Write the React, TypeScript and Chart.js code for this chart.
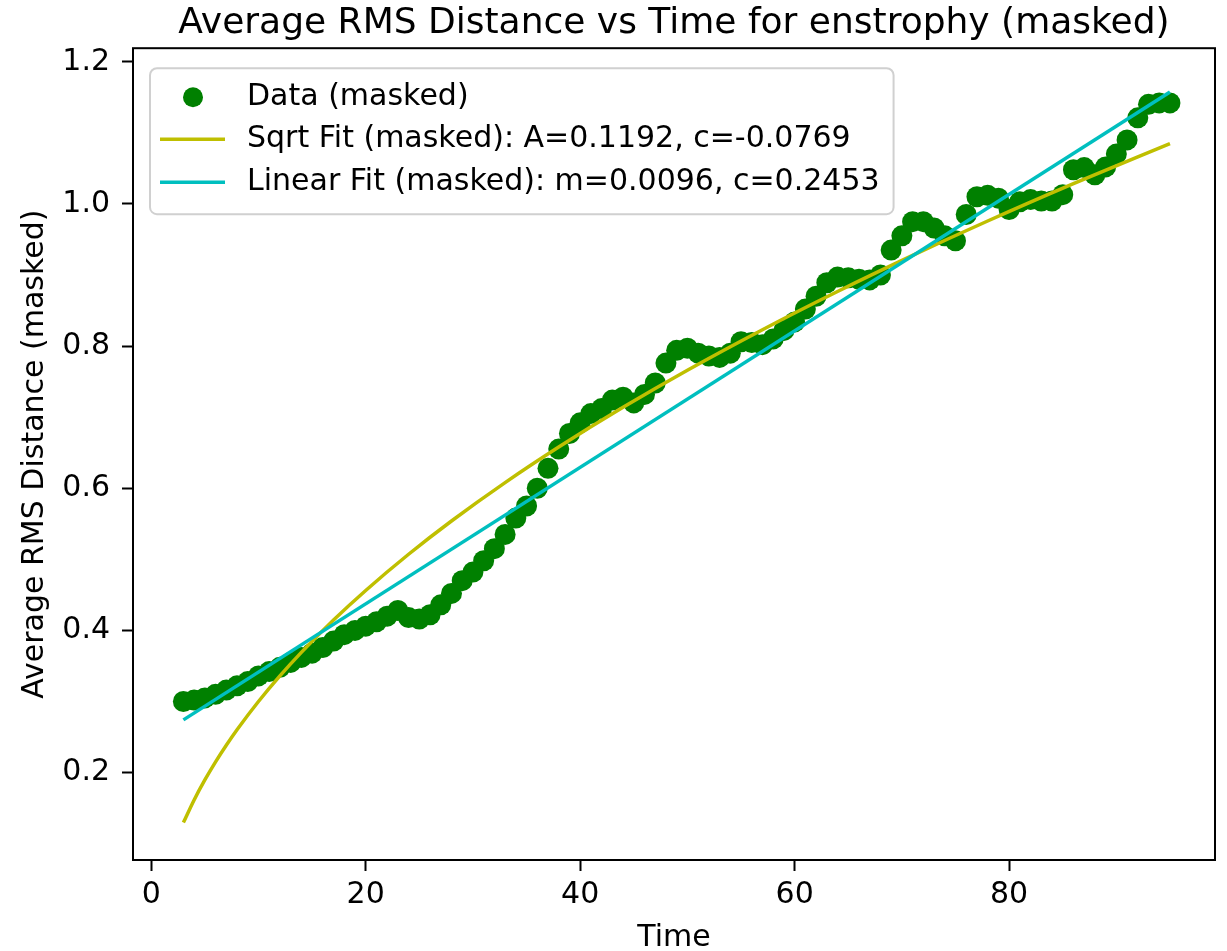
import React, { useEffect, useRef } from "react";
import { Chart, registerables } from "chart.js";

Chart.register(...registerables);

const TITLE = "Average RMS Distance vs Time for enstrophy (masked)";
const X_LABEL = "Time";
const Y_LABEL = "Average RMS Distance (masked)";
const DATA_LABEL = "Data (masked)";
const SQRT_LABEL = "Sqrt Fit (masked): A=0.1192, c=-0.0769";
const LINEAR_LABEL = "Linear Fit (masked): m=0.0096, c=0.2453";

const TIMES = [
  3, 4, 5, 6, 7, 8, 9, 10, 11, 12,
  13, 14, 15, 16, 17, 18, 19, 20, 21, 22,
  23, 24, 25, 26, 27, 28, 29, 30, 31, 32,
  33, 34, 35, 36, 37, 38, 39, 40, 41, 42,
  43, 44, 45, 46, 47, 48, 49, 50, 51, 52,
  53, 54, 55, 56, 57, 58, 59, 60, 61, 62,
  63, 64, 65, 66, 67, 68, 69, 70, 71, 72,
  73, 74, 75, 76, 77, 78, 79, 80, 81, 82,
  83, 84, 85, 86, 87, 88, 89, 90, 91, 92,
  93, 94, 95,
];

const RMS = [
  0.300, 0.302, 0.305, 0.310, 0.316, 0.322, 0.328, 0.336, 0.342, 0.348,
  0.355, 0.362, 0.368, 0.376, 0.385, 0.394, 0.400, 0.406, 0.412, 0.420,
  0.428, 0.418, 0.416, 0.422, 0.436, 0.452, 0.470, 0.482, 0.498, 0.515,
  0.535, 0.558, 0.575, 0.600, 0.628, 0.655, 0.677, 0.692, 0.705, 0.712,
  0.724, 0.728, 0.720, 0.732, 0.748, 0.776, 0.794, 0.797, 0.790, 0.786,
  0.784, 0.790, 0.806, 0.805, 0.802, 0.810, 0.822, 0.834, 0.852, 0.870,
  0.889, 0.897, 0.896, 0.894, 0.893, 0.900, 0.935, 0.955, 0.975, 0.975,
  0.966, 0.955, 0.948, 0.985, 1.010, 1.012, 1.008, 0.992, 1.003, 1.006,
  1.004, 1.004, 1.013, 1.048, 1.051, 1.041, 1.052, 1.070, 1.090, 1.121,
  1.140, 1.142, 1.142,
];

const SQRT_X = [3, 4, 5, 6, 7, 8, 10, 12, 14, 17, 20, 24, 28, 33, 38, 44, 50, 57, 64, 71, 78, 86, 95];
const SQRT_Y = [
  0.1296, 0.1615, 0.1896, 0.2151, 0.2385, 0.2603, 0.3000, 0.3360, 0.3691, 0.4146,
  0.4562, 0.5071, 0.5539, 0.6079, 0.6579, 0.7138, 0.7660, 0.8230, 0.8767, 0.9275,
  0.9759, 1.0285, 1.0849,
];

const LIN_X = [3, 95];
const LIN_Y = [0.2741, 1.1573];

const X_TICKS = [0, 20, 40, 60, 80];
const Y_TICKS = [0.2, 0.4, 0.6, 0.8, 1.0, 1.2];

const X_MIN = -1.7;
const X_MAX = 99.2;
const Y_MIN = 0.077;
const Y_MAX = 1.219;

const FONT = "DejaVu Sans";
const GREEN = "#008000";
const YELLOW = "#bfbf00";
const CYAN = "#00bfbf";

const spinesPlugin = {
  id: "mplSpines",
  afterDatasetsDraw(chart: any) {
    const { ctx, chartArea } = chart;
    ctx.save();
    ctx.strokeStyle = "#000";
    ctx.lineWidth = 2;
    ctx.strokeRect(chartArea.left, chartArea.top, chartArea.right - chartArea.left, chartArea.bottom - chartArea.top);
    ctx.restore();
  },
};

const legendPlugin = {
  id: "mplLegend",
  afterDraw(chart: any) {
    const { ctx, chartArea } = chart;
    const ds = chart.data.datasets;
    ctx.save();
    ctx.font = `30px "${FONT}"`;
    const textX = chartArea.left + 114;
    let maxW = 0;
    ds.forEach((d: any) => {
      maxW = Math.max(maxW, ctx.measureText(d.label).width);
    });
    const bx = chartArea.left + 17;
    const by = chartArea.top + 20;
    const bw = textX + maxW + 14 - bx;
    const bh = 146;
    ctx.beginPath();
    (ctx as any).roundRect(bx, by, bw, bh, 7);
    ctx.fillStyle = "rgba(255,255,255,0.8)";
    ctx.fill();
    ctx.strokeStyle = "#d0d0d0";
    ctx.lineWidth = 2;
    ctx.stroke();
    const rowY = [chartArea.top + 49, chartArea.top + 91, chartArea.top + 134];
    ds.forEach((d: any, i: number) => {
      const y = rowY[i];
      if (d.showLine) {
        ctx.beginPath();
        ctx.moveTo(chartArea.left + 27, y);
        ctx.lineTo(chartArea.left + 92, y);
        ctx.strokeStyle = d.borderColor;
        ctx.lineWidth = 3.5;
        ctx.stroke();
      } else {
        ctx.beginPath();
        ctx.arc(chartArea.left + 60, y, 10, 0, Math.PI * 2);
        ctx.fillStyle = d.backgroundColor;
        ctx.fill();
      }
      ctx.fillStyle = "#000";
      ctx.textAlign = "left";
      ctx.textBaseline = "middle";
      ctx.fillText(d.label, textX, y);
    });
    ctx.restore();
  },
};

export default function App() {
  const canvasRef = useRef<HTMLCanvasElement | null>(null);

  useEffect(() => {
    if (!canvasRef.current) return;
    const chart = new Chart(canvasRef.current, {
      type: "scatter",
      data: {
        datasets: [
          {
            label: DATA_LABEL,
            data: TIMES.map((t, i) => ({ x: t, y: RMS[i] })),
            backgroundColor: GREEN,
            borderColor: GREEN,
            pointRadius: 10.5,
            pointBorderWidth: 0,
            showLine: false,
            order: 3,
          },
          {
            label: SQRT_LABEL,
            data: SQRT_X.map((t, i) => ({ x: t, y: SQRT_Y[i] })),
            borderColor: YELLOW,
            backgroundColor: YELLOW,
            borderWidth: 3.5,
            pointRadius: 0,
            showLine: true,
            cubicInterpolationMode: "monotone",
            order: 2,
          },
          {
            label: LINEAR_LABEL,
            data: LIN_X.map((t, i) => ({ x: t, y: LIN_Y[i] })),
            borderColor: CYAN,
            backgroundColor: CYAN,
            borderWidth: 3.5,
            pointRadius: 0,
            showLine: true,
            order: 1,
          },
        ],
      },
      options: {
        responsive: false,
        animation: false,
        devicePixelRatio: 1,
        layout: { padding: { left: 0, right: 12, top: 0, bottom: 0 } },
        plugins: {
          legend: { display: false },
          tooltip: { enabled: false },
          title: {
            display: true,
            fullSize: false,
            text: TITLE,
            color: "#000",
            font: { family: FONT, size: 36, weight: "normal", lineHeight: 1.2 },
            padding: { top: 2, bottom: 3 },
          },
        },
        scales: {
          x: {
            type: "linear",
            min: X_MIN,
            max: X_MAX,
            afterBuildTicks: (scale: any) => {
              scale.ticks = X_TICKS.map((v) => ({ value: v }));
            },
            afterFit: (scale: any) => {
              scale.height = 91;
            },
            grid: {
              display: true,
              drawOnChartArea: false,
              drawTicks: true,
              tickLength: 11,
              tickWidth: 2,
              tickColor: "#000",
            },
            border: { display: false },
            ticks: {
              color: "#000",
              font: { family: FONT, size: 30, lineHeight: 1.2 },
              padding: 6,
              maxRotation: 0,
              autoSkip: false,
              callback: (v: any) => String(v),
            },
            title: {
              display: true,
              text: X_LABEL,
              color: "#000",
              font: { family: FONT, size: 30, lineHeight: 0.85 },
              padding: { top: 0, bottom: 0 },
            },
          },
          y: {
            type: "linear",
            min: Y_MIN,
            max: Y_MAX,
            afterBuildTicks: (scale: any) => {
              scale.ticks = Y_TICKS.map((v) => ({ value: v }));
            },
            afterFit: (scale: any) => {
              scale.width = 133;
            },
            grid: {
              display: true,
              drawOnChartArea: false,
              drawTicks: true,
              tickLength: 11,
              tickWidth: 2,
              tickColor: "#000",
            },
            border: { display: false },
            ticks: {
              color: "#000",
              font: { family: FONT, size: 30, lineHeight: 1.2 },
              padding: 12,
              autoSkip: false,
              callback: (v: any) => Number(v).toFixed(1),
            },
            title: {
              display: true,
              text: Y_LABEL,
              color: "#000",
              font: { family: FONT, size: 30, lineHeight: 1 },
              padding: { top: 20, bottom: 0 },
            },
          },
        },
      },
      plugins: [spinesPlugin, legendPlugin],
    } as any);
    return () => chart.destroy();
  }, []);

  return (
    <div style={{ position: "absolute", left: 0, top: 0, width: 1227, height: 951, background: "#fff" }}>
      <canvas ref={canvasRef} width={1227} height={951} style={{ width: 1227, height: 951 }} />
    </div>
  );
}
